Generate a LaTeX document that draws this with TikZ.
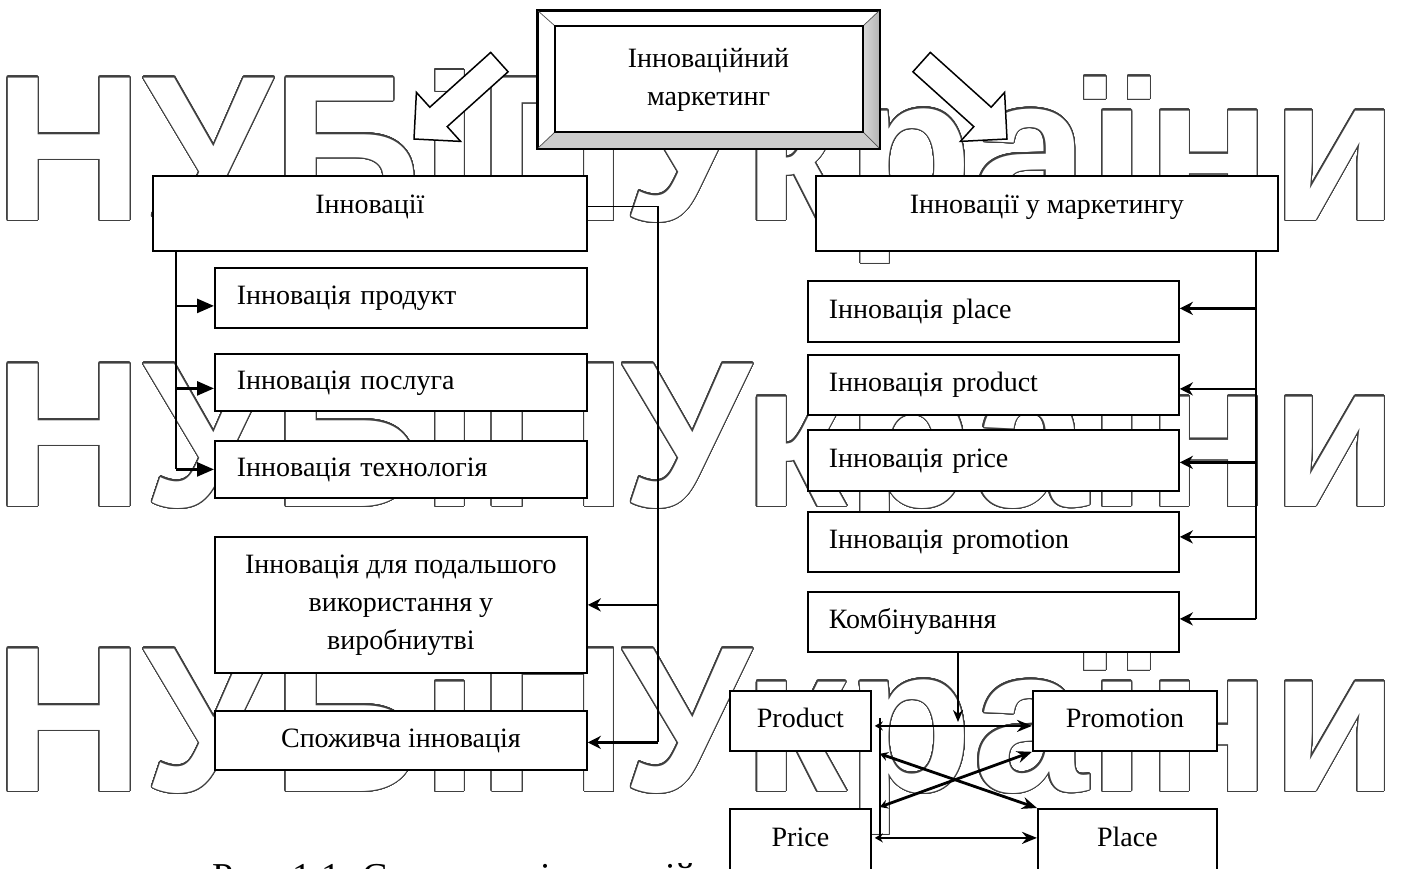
\documentclass[tikz,border=0pt]{standalone}
\usepackage{fontspec}
\setmainfont{Liberation Serif}
\newfontfamily\wmfont{Liberation Sans}
\usepackage[copies]{contour}
\contourlength{1.1pt}
\contournumber{48}
\usetikzlibrary{arrows.meta,calc}

\tikzset{
  txt/.style={font=\fontsize{28}{38}\selectfont},
  box/.style={draw, line width=1.8pt, fill=white, inner sep=0pt, txt, anchor=north west},
  one/.style={text height=20pt, text depth=6pt},
  lbox/.style={box, one, inner xsep=22pt, text width=328pt, align=left},
  rbox/.style={box, one, inner xsep=21pt, text width=329pt, align=left},
  wm/.style={anchor=base west, inner sep=0pt, text=white,
             font=\wmfont\bfseries\fontsize{207}{207}\selectfont},
  conn/.style={line width=1.6pt},
  harr/.style={line width=2.6pt, -{Triangle[length=17pt,width=14pt]}},
  rarr/.style={line width=2.8pt, -{Stealth[length=13pt,width=13pt,inset=4pt]}},
  barr/.style={line width=2.8pt, {Stealth[length=8pt,width=9pt]}-{Stealth[length=15pt,width=12pt]}},
  darr/.style={line width=2.4pt, -{Stealth[length=12pt,width=10pt]}},
  hollow/.style={line width=1.5pt, fill=white}
}

\begin{document}
\begin{tikzpicture}[x=1pt,y=-1pt]
\useasboundingbox (0,0) rectangle (1405,869);
\fill[white] (0,0) rectangle (1405,869);

% background lettering
\foreach \b/\n in {220/1,506/2,791/3} {
  \node[wm] (wmL\n) at (-6,\b) {\contour{black!75}{НУБіП}};
  \node[wm] (wmR\n) at (622,\b) {\contour{black!75}{України}};
}

% caption
\node[anchor=base west, inner sep=0pt, font=\fontsize{38}{44}\selectfont] (cap) at (212,889) {Рис. 1.1. Структура інновацій};

% bevelled title frame
\node[draw, line width=2pt, fill=white, minimum width=341pt, minimum height=137pt,
      anchor=north west, inner sep=0pt, align=center, txt] (top) at (537,10)
      {Інноваційний\\маркетинг};
\coordinate (i1) at ($(top.north west)+(18,16)$);
\coordinate (i2) at ($(top.north east)+(-17,16)$);
\coordinate (i3) at ($(top.south east)+(-17,-17)$);
\coordinate (i4) at ($(top.south west)+(18,-17)$);
\fill[gray!40] (top.south west) -- (top.south east) -- (i3) -- (i4) -- cycle;
\shade[left color=gray!30, right color=gray!60] (top.north east) -- (top.south east) -- (i3) -- (i2) -- cycle;
\draw[line width=0.7pt, black!70] (top.north west) -- (i1) (top.north east) -- (i2)
      (top.south east) -- (i3) (top.south west) -- (i4);
\draw[line width=2pt] (i1) rectangle (i3);
\draw[line width=2.2pt] (top.north west) rectangle (top.south east);

% hollow block arrows leaving the title frame
\draw[hollow] (414,139) -- (460.6,141.4) -- (447.2,126.6) -- (508.1,71.8)
      -- (490.7,52.4) -- (429.8,107.2) -- (416.4,92.4) -- cycle;
\draw[hollow] (1007,139) -- (960.4,141.4) -- (973.8,126.6) -- (912.9,71.8)
      -- (930.3,52.4) -- (991.2,107.2) -- (1004.6,92.4) -- cycle;

% left branch
\node[box, minimum width=434pt, minimum height=75pt, text height=14pt, text depth=14pt] (innov) at (152,175) {Інновації};
\node[lbox, minimum height=60pt] (prod) at (214,267) {Інновація продукт};
\node[lbox, minimum height=57pt] (serv) at (214,353) {Інновація послуга};
\node[lbox, minimum height=57pt] (tech) at (214,440) {Інновація технологія};
\node[box, minimum width=372pt, minimum height=136pt, align=center] (further) at (214,536)
      {Інновація для подальшого\\використання у\\виробниутві};
\node[box, one, minimum width=372pt, minimum height=59pt] (cons) at (214,710) {Споживча інновація};

\coordinate (lx) at (176,0);
\coordinate (rx) at (658,0);
\draw[conn] (innov.south -| lx) -- (tech.west -| lx);
\draw[harr] ($(prod.west -| lx)+(0,8)$) -- ($(prod.west)+(0,8)$);
\draw[harr] ($(serv.west -| lx)+(0,6)$) -- ($(serv.west)+(0,6)$);
\draw[harr] (tech.west -| lx) -- (tech.west);
\draw[conn] ($(innov.east)+(0,-7)$) -| ($(cons.east -| rx)+(0,2)$);
\draw[rarr] (further.east -| rx) -- (further.east);
\draw[rarr] ($(cons.east -| rx)+(0,2)$) -- ($(cons.east)+(0,2)$);

% right branch
\node[box, minimum width=462pt, minimum height=75pt, text height=14pt, text depth=14pt] (mark) at (815,175) {Інновації у маркетингу};
\node[rbox, minimum height=61pt] (iplace) at (807,280) {Інновація place};
\node[rbox, minimum height=60pt] (iprod) at (807,354) {Інновація product};
\node[rbox, minimum height=61pt] (iprice) at (807,429) {Інновація price};
\node[rbox, minimum height=60pt] (iprom) at (807,511) {Інновація promotion};
\node[rbox, minimum height=60pt] (komb) at (807,591) {Комбінування};

\coordinate (mx) at (1256,0);
\draw[conn, line width=2pt] (mark.south -| mx) -- ($(komb.east -| mx)+(0,-3)$);
\draw[rarr] ($(iplace.east -| mx)+(0,-3)$) -- ($(iplace.east)+(0,-3)$);
\draw[rarr] ($(iprod.east -| mx)+(0,4)$) -- ($(iprod.east)+(0,4)$);
\draw[rarr] ($(iprice.east -| mx)+(0,2)$) -- ($(iprice.east)+(0,2)$);
\draw[rarr] ($(iprom.east -| mx)+(0,-5)$) -- ($(iprom.east)+(0,-5)$);
\draw[rarr] ($(komb.east -| mx)+(0,-3)$) -- ($(komb.east)+(0,-3)$);

% marketing mix
\node[box, one, minimum width=141pt, minimum height=60pt] (product) at (729,690) {Product};
\node[box, one, minimum width=184pt, minimum height=60pt] (promotion) at (1032,690) {Promotion};
\node[box, one, minimum width=141pt, minimum height=62pt] (price) at (729,808) {Price};
\node[box, one, minimum width=179pt, minimum height=62pt] (place) at (1037,808) {Place};

\coordinate (kx) at (958,722);
\draw[darr] (komb.south -| kx) -- (kx);

\coordinate (bx) at (880,0);
\draw[conn, line width=2pt] ($(product.east -| bx)+(0,-3)$) -- (price.east -| bx);
\draw[barr] ($(product.east)+(3,5)$) -- ($(promotion.west)+(0,5)$);
\draw[barr] ($(product.south east)+(8,2)$) -- (place.north west);
\draw[barr] ($(price.north east)+(8,-1)$) -- (promotion.south west);
\draw[barr] ($(price.east)+(3,-2)$) -- ($(place.west)+(0,-2)$);
\end{tikzpicture}
\end{document}
